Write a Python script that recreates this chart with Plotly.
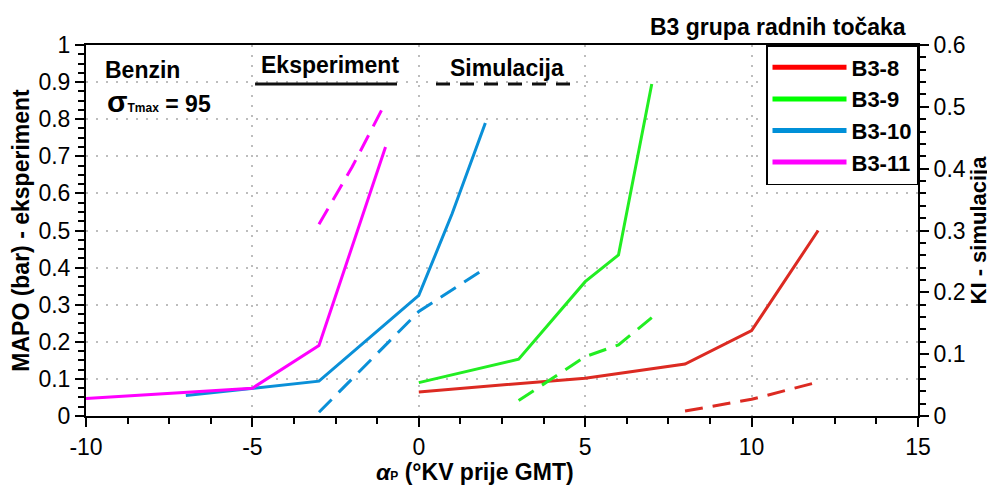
import plotly.graph_objects as go

# ---- data ----
x8 = [0, 5, 8, 10, 12]
mapo8 = [0.065, 0.102, 0.14, 0.23, 0.50]
ki8_x = [8, 10, 12]
ki8 = [0.008, 0.027, 0.055]

x9 = [0, 3, 5, 6, 7]
mapo9 = [0.09, 0.153, 0.362, 0.434, 0.895]
ki9_x = [3, 5, 6, 7]
ki9 = [0.025, 0.096, 0.115, 0.159]

x10 = [-7, -5, -3, 0, 1, 2]
mapo10 = [0.055, 0.075, 0.094, 0.325, 0.545, 0.79]
ki10_x = [-3, 0, 2]
ki10 = [0.006, 0.169, 0.239]

x11 = [-10, -5, -3, -1]
mapo11 = [0.047, 0.075, 0.19, 0.725]
ki11_x = [-3, -2, -1]
ki11 = [0.31, 0.403, 0.507]

names = ["B3-8", "B3-9", "B3-10", "B3-11"]
line_colors = ["#dc2a22", "#22ee22", "#0a90d8", "#ff00ff"]
legend_colors = ["#ff0000", "#00ff00", "#0090d8", "#ff00ff"]

x_ticks = [-10, -5, 0, 5, 10, 15]
x_ticktext = ["-10", "-5", "0", "5", "10", "15"]

FONT = "Arial, Liberation Sans, sans-serif"
TICKF = 23
TITLEF = 23

fig = go.Figure()

series = [(x8, mapo8, ki8_x, ki8), (x9, mapo9, ki9_x, ki9),
          (x10, mapo10, ki10_x, ki10), (x11, mapo11, ki11_x, ki11)]

for (xs, ys, kx, ky), c in zip(series, line_colors):
    fig.add_trace(go.Scatter(x=xs, y=ys, mode="lines", line=dict(color=c, width=3),
                             showlegend=False, yaxis="y"))
    fig.add_trace(go.Scatter(x=kx, y=ky, mode="lines",
                             line=dict(color=c, width=3, dash="18px,10px"),
                             showlegend=False, yaxis="y2"))

for n, c in zip(names, legend_colors):
    fig.add_trace(go.Scatter(x=[None], y=[None], mode="lines", name="<b>%s</b>" % n,
                             line=dict(color=c, width=5), showlegend=True))

grid = dict(showgrid=True, gridcolor="#bdbdbd", griddash="2px,8px", gridwidth=2)

fig.update_layout(
    width=987, height=478,
    margin=dict(l=78, r=77, t=37, b=70, autoexpand=False),
    paper_bgcolor="white", plot_bgcolor="white",
    font=dict(family=FONT, size=TICKF, color="black"),
    xaxis=dict(range=[-10, 15], tickvals=x_ticks, ticktext=x_ticktext,
               automargin=False,
               showline=True, linecolor="black", linewidth=2, mirror=True,
               ticks="outside", ticklen=9, tickwidth=2, tickcolor="black",
               tickfont=dict(size=TICKF),
               minor=dict(dtick=1.25, ticks="outside", ticklen=6, tickwidth=1.5,
                          tickcolor="black", showgrid=False),
               zeroline=False, **grid),
    yaxis=dict(range=[0, 1], dtick=0.1, automargin=False,
               showline=True, linecolor="black", linewidth=2,
               ticks="outside", ticklen=9, tickwidth=2, tickcolor="black",
               tickfont=dict(size=TICKF),
               minor=dict(dtick=0.025, ticks="outside", ticklen=6, tickwidth=1.5,
                          tickcolor="black", showgrid=False),
               zeroline=False, **grid,
               title=dict(text="<b>MAPO (bar) - eksperiment</b>", font=dict(size=TITLEF),
                          standoff=2)),
    yaxis2=dict(range=[0, 0.6], dtick=0.1, overlaying="y", side="right",
                automargin=False,
                showline=True, linecolor="black", linewidth=2,
                ticks="outside", ticklen=9, tickwidth=2, tickcolor="black",
                tickfont=dict(size=TICKF),
                minor=dict(dtick=0.02, ticks="outside", ticklen=6, tickwidth=1.5,
                           tickcolor="black", showgrid=False),
                showgrid=False, zeroline=False,
                title=dict(text="<b>KI - simulacija</b>", font=dict(size=22), standoff=2)),
    legend=dict(x=1, xanchor="right", y=1, yanchor="top",
                bgcolor="white", bordercolor="black", borderwidth=1.5,
                font=dict(size=22, family=FONT), itemwidth=74, tracegroupgap=0),
    showlegend=True,
)

annotations = [
    dict(text="<b><i>α</i><span style='font-size:12px'>P</span> (°KV prije GMT)</b>",
         xref="paper", yref="paper", x=0.4675, y=-0.152, xanchor="center",
         yanchor="middle", showarrow=False, font=dict(size=23)),
    dict(text="<b>B3 grupa radnih točaka</b>", xref="paper", yref="paper",
         x=0.988, y=1.0485, xanchor="right", yanchor="middle", showarrow=False,
         font=dict(size=23)),
    dict(text="<b>Benzin</b>", xref="x", yref="y", x=-9.49, y=0.933,
         xanchor="left", yanchor="middle", showarrow=False, font=dict(size=23)),
    dict(text="<b><span style='font-size:30px'>σ</span><span style='font-size:12px'>Tmax</span> = 95</b>",
         xref="x", yref="y", x=-9.43, y=0.849, xanchor="left", yanchor="middle",
         showarrow=False, font=dict(size=23)),
    dict(text="<b>Eksperiment</b>", xref="x", yref="y", x=-2.67, y=0.946,
         xanchor="center", yanchor="middle", showarrow=False, font=dict(size=23)),
    dict(text="<b>Simulacija</b>", xref="x", yref="y", x=2.65, y=0.938,
         xanchor="center", yanchor="middle", showarrow=False, font=dict(size=23)),
]
fig.update_layout(annotations=annotations)

fig.update_layout(shapes=[
    dict(type="line", xref="x", yref="y", x0=-4.92, x1=-0.655, y0=0.895, y1=0.895,
         line=dict(color="#111111", width=3)),
    dict(type="line", xref="x", yref="y", x0=0.517, x1=4.78, y0=0.895, y1=0.895,
         line=dict(color="#111111", width=3, dash="14px,10px")),
])

fig.write_html("out.html")
